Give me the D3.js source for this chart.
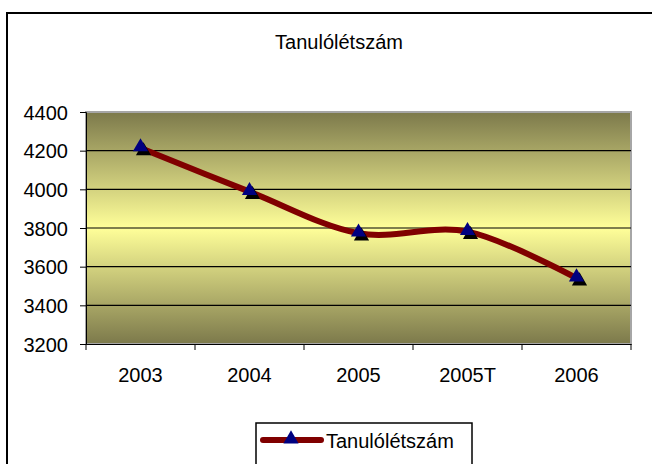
<!DOCTYPE html>
<html>
<head>
<meta charset="utf-8">
<script src="https://cdn.jsdelivr.net/npm/d3@7"></script>
<style>
  body { margin: 0; background: #fff; }
  text { font-family: "Liberation Sans", Arial, sans-serif; fill: #000; }
</style>
</head>
<body>
<svg id="chart" width="652" height="464"></svg>
<script>
var categories = ["2003", "2004", "2005", "2005T", "2006"];
var values = [4214, 3988, 3773, 3781, 3541];
var yTicks = [3200, 3400, 3600, 3800, 4000, 4200, 4400];
var seriesName = "Tanulólétszám";

var svg = d3.select("#chart");
var plotL = 86, plotR = 631, plotT = 112, plotB = 344;

// outer chart border (right / bottom run off the picture)
svg.append("rect")
  .attr("x", 7).attr("y", 13)
  .attr("width", 700).attr("height", 500)
  .attr("fill", "#fff").attr("stroke", "#000").attr("stroke-width", 2);

// plot background gradient
var grad = svg.append("defs").append("linearGradient")
  .attr("id", "bg").attr("x1", 0).attr("y1", 0).attr("x2", 0).attr("y2", 1);
grad.append("stop").attr("offset", "0%").attr("stop-color", "#7c794b");
grad.append("stop").attr("offset", "50%").attr("stop-color", "#ffff99");
grad.append("stop").attr("offset", "100%").attr("stop-color", "#7c794b");

svg.append("rect")
  .attr("x", plotL).attr("y", plotT)
  .attr("width", plotR - plotL).attr("height", plotB - plotT)
  .attr("fill", "url(#bg)")
  .attr("stroke", "#a6a6a6").attr("stroke-width", 2);

var x = d3.scaleBand().domain(categories).range([plotL, plotR]);
var y = d3.scaleLinear().domain([3200, 4400]).range([plotB, plotT]);

// gridlines
svg.append("g").selectAll("line")
  .data(yTicks.slice(1, -1))
  .enter().append("line")
    .attr("x1", plotL).attr("x2", plotR)
    .attr("y1", function(d) { return y(d); })
    .attr("y2", function(d) { return y(d); })
    .attr("stroke", "#000").attr("stroke-width", 1.2);

// y axis
var yAxis = svg.append("g")
  .attr("transform", "translate(" + plotL + ",0)")
  .call(d3.axisLeft(y).tickValues(yTicks).tickFormat(d3.format("d")).tickSize(6).tickPadding(12));
yAxis.selectAll("text").style("font-size", "20px").attr("dy", "0.36em");
yAxis.selectAll("line, path").attr("stroke", "#000");

// x axis, ticks at category boundaries
var xAxis = svg.append("g")
  .attr("transform", "translate(0," + plotB + ")")
  .call(d3.axisBottom(x).tickSize(0).tickPadding(24));
xAxis.selectAll("text").style("font-size", "20px");
xAxis.select("path").attr("stroke", "#000");
xAxis.selectAll(".bound")
  .data(categories.concat(["end"]))
  .enter().append("line")
    .attr("class", "bound")
    .attr("x1", function(d, i) { return plotL + i * x.bandwidth(); })
    .attr("x2", function(d, i) { return plotL + i * x.bandwidth(); })
    .attr("y1", 0).attr("y2", 6)
    .attr("stroke", "#000");

// smoothed line
var line = d3.line()
  .x(function(d, i) { return x(categories[i]) + x.bandwidth() / 2; })
  .y(function(d) { return y(d); })
  .curve(d3.curveCardinal.tension(0));

svg.append("path")
  .datum(values)
  .attr("d", line)
  .attr("fill", "none")
  .attr("stroke", "#800000")
  .attr("stroke-width", 6)
  .attr("stroke-linecap", "round");

var tri = d3.symbol().type(d3.symbolTriangle).size(100);

// marker shadows then markers
svg.append("g").selectAll("path")
  .data(values)
  .enter().append("path")
    .attr("d", tri)
    .attr("fill", "#000")
    .attr("transform", function(d, i) {
      return "translate(" + (x(categories[i]) + x.bandwidth() / 2 + 3) + "," + (y(d) + 3) + ")";
    });
svg.append("g").selectAll("path")
  .data(values)
  .enter().append("path")
    .attr("d", tri)
    .attr("fill", "#000080")
    .attr("transform", function(d, i) {
      return "translate(" + (x(categories[i]) + x.bandwidth() / 2) + "," + (y(d) - 1) + ")";
    });

// title
svg.append("text")
  .attr("x", 339).attr("y", 49)
  .attr("text-anchor", "middle")
  .style("font-size", "20px")
  .text(seriesName);

// legend
var lg = svg.append("g");
lg.append("rect")
  .attr("x", 256).attr("y", 423)
  .attr("width", 216).attr("height", 60)
  .attr("fill", "#fff").attr("stroke", "#000").attr("stroke-width", 1.5);
lg.append("line")
  .attr("x1", 263).attr("x2", 321).attr("y1", 440).attr("y2", 440)
  .attr("stroke", "#800000").attr("stroke-width", 6).attr("stroke-linecap", "round");
lg.append("path")
  .attr("d", tri)
  .attr("fill", "#000080")
  .attr("transform", "translate(291,439)");
lg.append("text")
  .attr("x", 326).attr("y", 448)
  .style("font-size", "20px")
  .text(seriesName);
</script>
</body>
</html>
